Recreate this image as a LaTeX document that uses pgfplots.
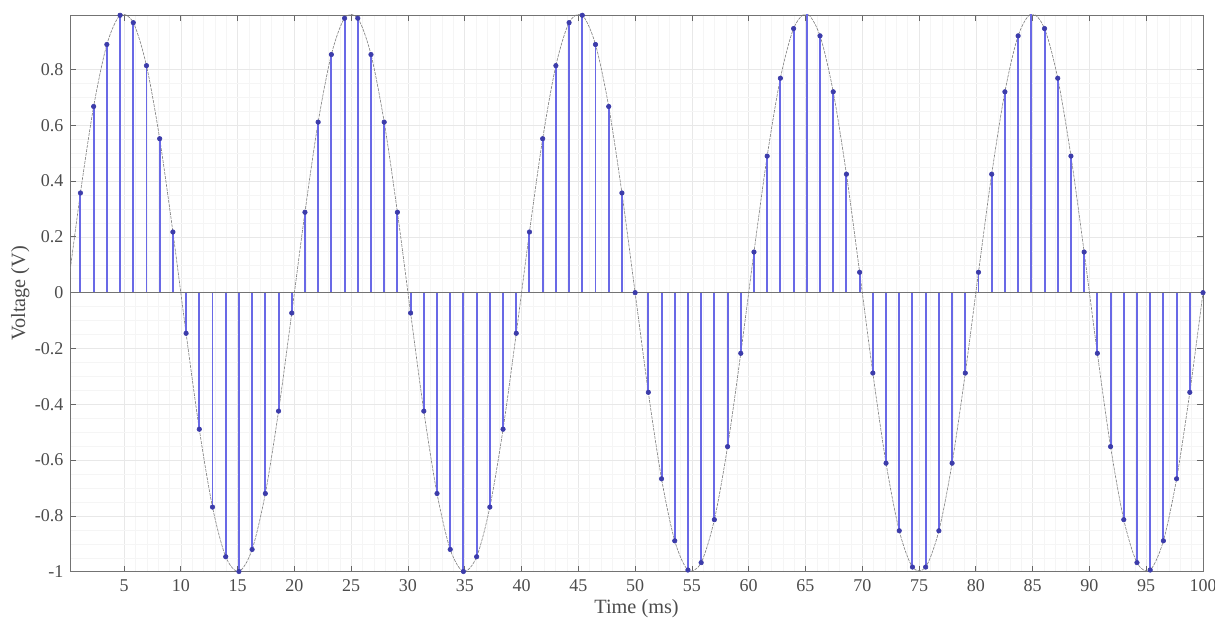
\documentclass[border=0pt]{standalone}
\usepackage{fontspec}
\setmainfont{Liberation Serif}
\usepackage{pgfplots}
\pgfplotsset{compat=1.18}
\usepackage{pgfplotstable}
\definecolor{stemc}{RGB}{105,105,230}
\definecolor{markc}{RGB}{60,60,170}
\definecolor{curvec}{RGB}{125,125,125}
\pgfplotstableread{
t v
1.1628 0.3572
2.3256 0.6671
3.4884 0.8893
4.6512 0.9940
5.8140 0.9675
6.9767 0.8135
8.1395 0.5517
9.3023 0.2174
10.4651 -0.1456
11.6279 -0.4894
12.7907 -0.7684
13.9535 -0.9464
15.1163 -0.9993
16.2791 -0.9203
17.4419 -0.7198
18.6047 -0.4245
19.7674 -0.0730
20.9302 0.2881
22.0930 0.6111
23.2558 0.8533
24.4186 0.9834
25.5814 0.9834
26.7442 0.8533
27.9070 0.6111
29.0698 0.2881
30.2326 -0.0730
31.3953 -0.4245
32.5581 -0.7198
33.7209 -0.9203
34.8837 -0.9993
36.0465 -0.9464
37.2093 -0.7684
38.3721 -0.4894
39.5349 -0.1456
40.6977 0.2174
41.8605 0.5517
43.0233 0.8135
44.1860 0.9675
45.3488 0.9940
46.5116 0.8893
47.6744 0.6671
48.8372 0.3572
50.0000 0.0000
51.1628 -0.3572
52.3256 -0.6671
53.4884 -0.8893
54.6512 -0.9940
55.8140 -0.9675
56.9767 -0.8135
58.1395 -0.5517
59.3023 -0.2174
60.4651 0.1456
61.6279 0.4894
62.7907 0.7684
63.9535 0.9464
65.1163 0.9993
66.2791 0.9203
67.4419 0.7198
68.6047 0.4245
69.7674 0.0730
70.9302 -0.2881
72.0930 -0.6111
73.2558 -0.8533
74.4186 -0.9834
75.5814 -0.9834
76.7442 -0.8533
77.9070 -0.6111
79.0698 -0.2881
80.2326 0.0730
81.3953 0.4245
82.5581 0.7198
83.7209 0.9203
84.8837 0.9993
86.0465 0.9464
87.2093 0.7684
88.3721 0.4894
89.5349 0.1456
90.6977 -0.2174
91.8605 -0.5517
93.0233 -0.8135
94.1860 -0.9675
95.3488 -0.9940
96.5116 -0.8893
97.6744 -0.6671
98.8372 -0.3572
100.0000 0.0000
}\samples
\pgfplotstableread{
t v
0.0000 0.0000
1.1628 0.3572
2.3256 0.6671
3.4884 0.8893
4.6512 0.9940
5.8140 0.9675
6.9767 0.8135
8.1395 0.5517
9.3023 0.2174
10.4651 -0.1456
11.6279 -0.4894
12.7907 -0.7684
13.9535 -0.9464
15.1163 -0.9993
16.2791 -0.9203
17.4419 -0.7198
18.6047 -0.4245
19.7674 -0.0730
20.9302 0.2881
22.0930 0.6111
23.2558 0.8533
24.4186 0.9834
25.5814 0.9834
26.7442 0.8533
27.9070 0.6111
29.0698 0.2881
30.2326 -0.0730
31.3953 -0.4245
32.5581 -0.7198
33.7209 -0.9203
34.8837 -0.9993
36.0465 -0.9464
37.2093 -0.7684
38.3721 -0.4894
39.5349 -0.1456
40.6977 0.2174
41.8605 0.5517
43.0233 0.8135
44.1860 0.9675
45.3488 0.9940
46.5116 0.8893
47.6744 0.6671
48.8372 0.3572
50.0000 0.0000
51.1628 -0.3572
52.3256 -0.6671
53.4884 -0.8893
54.6512 -0.9940
55.8140 -0.9675
56.9767 -0.8135
58.1395 -0.5517
59.3023 -0.2174
60.4651 0.1456
61.6279 0.4894
62.7907 0.7684
63.9535 0.9464
65.1163 0.9993
66.2791 0.9203
67.4419 0.7198
68.6047 0.4245
69.7674 0.0730
70.9302 -0.2881
72.0930 -0.6111
73.2558 -0.8533
74.4186 -0.9834
75.5814 -0.9834
76.7442 -0.8533
77.9070 -0.6111
79.0698 -0.2881
80.2326 0.0730
81.3953 0.4245
82.5581 0.7198
83.7209 0.9203
84.8837 0.9993
86.0465 0.9464
87.2093 0.7684
88.3721 0.4894
89.5349 0.1456
90.6977 -0.2174
91.8605 -0.5517
93.0233 -0.8135
94.1860 -0.9675
95.3488 -0.9940
96.5116 -0.8893
97.6744 -0.6671
98.8372 -0.3572
100.0000 0.0000
}\curve
\begin{document}
\begin{tikzpicture}
\begin{axis}[
  scale only axis,
  width=755pt, height=371pt,
  xmin=0.25, xmax=100,
  ymin=-1, ymax=0.995,
  xtick={5,10,...,100},
  ytick={-1,-0.8,...,0.8},
  yticklabels={-1,-0.8,-0.6,-0.4,-0.2,0,0.2,0.4,0.6,0.8},
  minor x tick num=4,
  minor y tick num=3,
  grid=both,
  major grid style={draw=black!9, line width=0.4pt},
  minor grid style={draw=black!4, line width=0.3pt},
  tick align=inside,
  major tick length=4pt,
  minor tick length=0pt,
  axis line style={draw=black!55, line width=0.6pt},
  tick style={draw=black!60, line width=0.5pt},
  tick label style={font=\fontsize{12}{14}\selectfont, text=black!70},
  yticklabel style={xshift=-1pt},
  xticklabel style={yshift=-2pt},
  /pgf/number format/assume math mode=true,
  xlabel={Time (ms)},
  ylabel={Voltage (V)},
  label style={font=\fontsize{13.5}{15}\selectfont, text=black!70},
  xlabel style={at={(axis description cs:0.5,-0.049)}, anchor=north, inner sep=0pt, outer sep=0pt},
  ylabel style={at={(axis description cs:-0.044,0.5)}, anchor=center},
  axis background/.style={fill=white},
  clip=true,
]
\addplot[curvec, line width=0.4pt, dash pattern=on 2pt off 0.7pt, smooth] table[x=t,y=v]{\curve};
\addplot[ycomb, stemc, line width=1.3pt, mark=*, mark size=1.5pt,
  mark options={fill=markc, draw=markc, line width=0.4pt}] table[x=t,y=v]{\samples};
\draw[black!55, line width=0.6pt] (axis cs:0.25,0) -- (axis cs:100,0);
\end{axis}
\pgfresetboundingbox
\path[use as bounding box] ([xshift=-46.7pt,yshift=-32.7pt]current axis.south west) rectangle ([xshift=8pt,yshift=10pt]current axis.north east);
\end{tikzpicture}
\end{document}
